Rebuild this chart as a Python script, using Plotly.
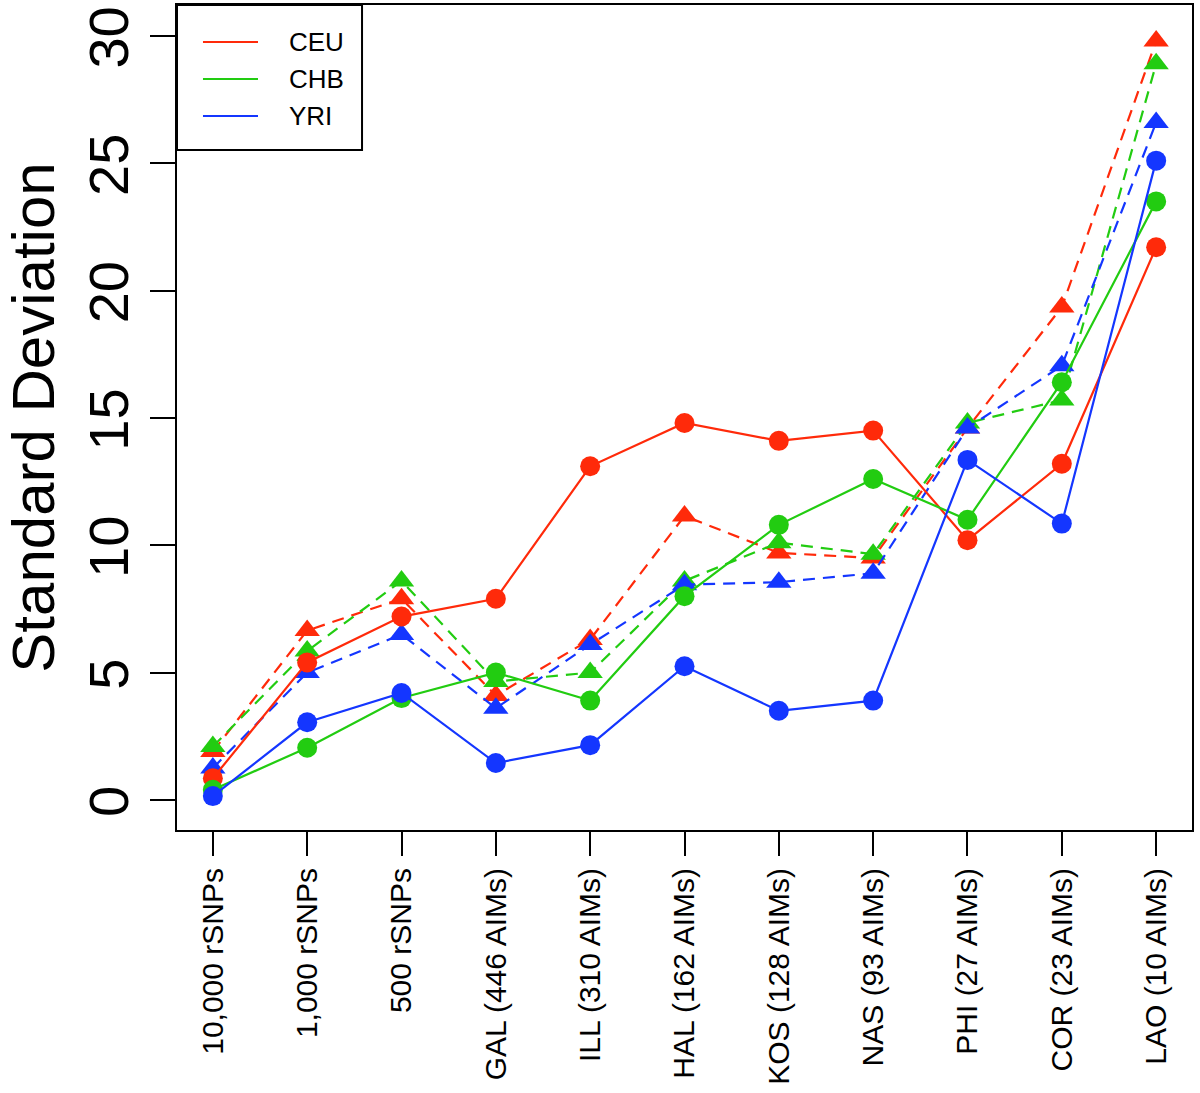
import plotly.graph_objects as go

labels = ['10,000 rSNPs', '1,000 rSNPs', '500 rSNPs', 'GAL (446 AIMs)', 'ILL (310 AIMs)',
          'HAL (162 AIMs)', 'KOS (128 AIMs)', 'NAS (93 AIMs)', 'PHI (27 AIMs)',
          'COR (23 AIMs)', 'LAO (10 AIMs)']

# solid lines, circles
ceu_solid = [0.85, 5.4, 7.2, 7.9, 13.1, 14.8, 14.1, 14.5, 10.2, 13.2, 21.7]
chb_solid = [0.4, 2.05, 4.0, 5.0, 3.9, 8.0, 10.8, 12.6, 11.0, 16.4, 23.5]
yri_solid = [0.15, 3.05, 4.2, 1.45, 2.15, 5.25, 3.5, 3.9, 13.35, 10.85, 25.1]

# dashed lines, triangles
ceu_dash = [1.9, 6.65, 7.9, 4.1, 6.3, 11.15, 9.7, 9.5, 14.6, 19.35, 29.8]
chb_dash = [2.1, 5.85, 8.6, 4.65, 5.0, 8.6, 10.1, 9.65, 14.8, 15.7, 28.9]
yri_dash = [1.25, 5.0, 6.5, 3.6, 6.1, 8.45, 8.55, 8.9, 14.6, 17.05, 26.6]

pops = ['CEU', 'CHB', 'YRI']
colors = {'CEU': '#FF2A0A', 'CHB': '#22CC11', 'YRI': '#1436FF'}
solid = {'CEU': ceu_solid, 'CHB': chb_solid, 'YRI': yri_solid}
dash = {'CEU': ceu_dash, 'CHB': chb_dash, 'YRI': yri_dash}

x = list(range(len(labels)))
fig = go.Figure()

for p in pops:
    fig.add_trace(go.Scatter(x=x, y=dash[p], mode='lines+markers', showlegend=False,
                             line=dict(color=colors[p], width=2.2, dash='12px,8px'),
                             marker=dict(symbol='triangle-up', size=22, color=colors[p])))
for p in pops:
    fig.add_trace(go.Scatter(x=x, y=solid[p], mode='lines+markers', showlegend=False,
                             line=dict(color=colors[p], width=2.2),
                             marker=dict(symbol='circle', size=20, color=colors[p])))

# legend box drawn by hand (R style)
fig.add_shape(type='rect', xref='paper', yref='paper', x0=0, x1=0.1823, y0=0.8242, y1=1,
              line=dict(color='black', width=2), fillcolor='white', layer='above')
row_y = [0.9552, 0.9103, 0.8655]
for p, yy in zip(pops, row_y):
    fig.add_shape(type='line', xref='paper', yref='paper', x0=0.0256, x1=0.0798, y0=yy, y1=yy,
                  line=dict(color=colors[p], width=2), layer='above')
    fig.add_annotation(x=0.1084, y=yy, xref='paper', yref='paper', text=p, showarrow=False,
                       xanchor='left', yanchor='middle', font=dict(size=26, color='black'))

fig.update_layout(
    width=1200, height=1093,
    margin=dict(l=177, r=8, t=5, b=263),
    plot_bgcolor='white', paper_bgcolor='white',
    font=dict(family='Liberation Sans, Arial', color='black'),
    showlegend=False,
)
fig.update_xaxes(range=[-0.38, 10.38], tickvals=x, ticktext=labels, tickangle=-90,
                 tickfont=dict(size=30), showgrid=False, zeroline=False, automargin=False,
                 showline=True, linecolor='black', linewidth=2, mirror=True,
                 ticks='outside', ticklen=24, tickwidth=1.5, tickcolor='black')
fig.update_yaxes(range=[-1.18, 31.21], tickvals=[0, 5, 10, 15, 20, 25, 30], tickangle=-90,
                 tickfont=dict(size=56), showgrid=False, zeroline=False, automargin=False,
                 ticklabeloverflow='allow', ticklabelshift=10,
                 showline=True, linecolor='black', linewidth=2, mirror=True,
                 ticks='outside', ticklen=25, tickwidth=1.5, tickcolor='black',
                 title=dict(text='Standard Deviation', font=dict(size=60), standoff=22))

fig.write_html("out.html", config={'displayModeBar': False},
               post_script="document.body.style.margin='0';")
